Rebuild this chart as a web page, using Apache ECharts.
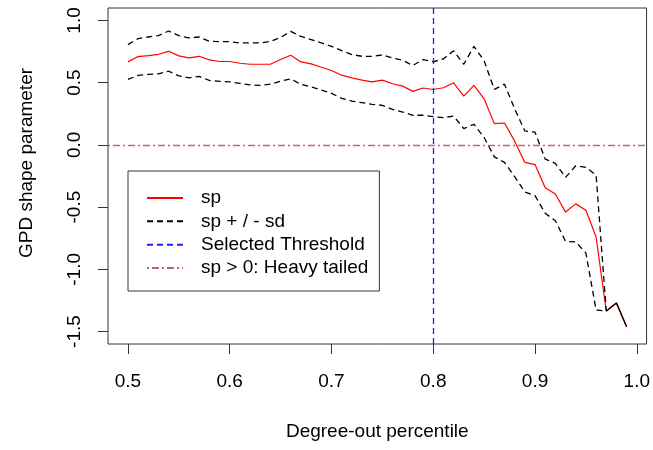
<!DOCTYPE html>
<html><head><meta charset="utf-8">
<script src="https://cdn.jsdelivr.net/npm/echarts@6/dist/echarts.min.js"></script>
<style>html,body{margin:0;padding:0;background:#fff}#c{width:653px;height:450px}</style>
</head><body><div id="c"></div>
<script>
const percentiles = [0.50,0.51,0.52,0.53,0.54,0.55,0.56,0.57,0.58,0.59,
  0.60,0.61,0.62,0.63,0.64,0.65,0.66,0.67,0.68,0.69,
  0.70,0.71,0.72,0.73,0.74,0.75,0.76,0.77,0.78,0.79,
  0.80,0.81,0.82,0.83,0.84,0.85,0.86,0.87,0.88,0.89,
  0.90,0.91,0.92,0.93,0.94,0.95,0.96,0.97,0.98,0.99];
const sp = [0.667,0.710,0.718,0.728,0.752,0.715,0.699,0.712,0.683,0.670,
  0.670,0.656,0.648,0.648,0.648,0.686,0.720,0.667,0.651,0.624,
  0.598,0.560,0.539,0.520,0.507,0.520,0.491,0.472,0.430,0.457,
  0.445,0.459,0.499,0.392,0.478,0.370,0.171,0.176,0.030,-0.141,
  -0.158,-0.345,-0.394,-0.540,-0.474,-0.525,-0.740,-1.335,-1.270,-1.461];
const spUpper = [0.806,0.854,0.867,0.878,0.915,0.878,0.859,0.867,0.832,0.830,
  0.830,0.819,0.819,0.819,0.832,0.864,0.912,0.872,0.846,0.819,
  0.792,0.758,0.726,0.712,0.712,0.723,0.699,0.680,0.638,0.686,
  0.668,0.691,0.756,0.648,0.792,0.675,0.446,0.488,0.290,0.112,
  0.102,-0.114,-0.148,-0.261,-0.168,-0.181,-0.242,-1.335,-1.270,-1.461];
const spLower = [0.526,0.558,0.566,0.571,0.592,0.555,0.539,0.550,0.518,0.510,
  0.507,0.494,0.483,0.478,0.488,0.512,0.531,0.486,0.467,0.440,
  0.414,0.374,0.352,0.339,0.326,0.318,0.286,0.264,0.238,0.238,
  0.227,0.219,0.232,0.131,0.166,0.059,-0.096,-0.141,-0.255,-0.378,
  -0.408,-0.550,-0.610,-0.775,-0.780,-0.870,-1.328,-1.335,-1.270,-1.461];
const threshold = 0.8;
const heavyTailLevel = 0;
const xTicks = [0.5,0.6,0.7,0.8,0.9,1.0];
const yTicks = [-1.5,-1.0,-0.5,0.0,0.5,1.0];
const xRange = [0.4804, 1.0096];
const yRange = [-1.6, 1.1];
const legendNames = ['sp','sp + / - sd','Selected Threshold','sp > 0: Heavy tailed'];

const FONT = 'Liberation Sans, Arial, sans-serif';
const pairs = arr => percentiles.map((x, i) => [x, arr[i]]);
const dash = [6, 4];
const dashDot = [2, 3, 7, 3];
const blueStyle = {color: '#2020ff', width: 1.3, type: dash};
const brownStyle = {color: '#c06868', width: 1.3, type: dashDot};

const chart = echarts.init(document.getElementById('c'), null, {renderer: 'canvas'});
chart.setOption({
  animation: false,
  backgroundColor: '#fff',
  textStyle: {fontFamily: FONT},
  grid: {left: 108, right: 6, top: 8, bottom: 106, show: true, borderColor: '#333', borderWidth: 1},
  xAxis: {
    type: 'value', min: xRange[0], max: xRange[1], position: 'bottom',
    name: 'Degree-out percentile', nameLocation: 'middle', nameGap: 78, nameMoveOverlap: false,
    nameTextStyle: {fontSize: 19, color: '#000', fontFamily: FONT},
    axisLine: {show: false, onZero: false},
    axisTick: {show: true, inside: false, length: 10, customValues: xTicks, lineStyle: {color: '#333'}},
    axisLabel: {customValues: xTicks, margin: 28, fontSize: 19, color: '#000', fontFamily: FONT,
      formatter: v => v.toFixed(1)},
    splitLine: {show: false}
  },
  yAxis: {
    type: 'value', min: yRange[0], max: yRange[1], position: 'left',
    name: 'GPD shape parameter', nameLocation: 'middle', nameRotate: 90, nameGap: 72, nameMoveOverlap: false,
    nameTextStyle: {fontSize: 19, color: '#000', fontFamily: FONT, padding: [0, 0, 0, 26]},
    axisLine: {show: false, onZero: false},
    axisTick: {show: true, inside: false, length: 10, customValues: yTicks, lineStyle: {color: '#333'}},
    axisLabel: {customValues: yTicks, rotate: 90, margin: 24, fontSize: 19, color: '#000', fontFamily: FONT,
      formatter: v => v.toFixed(1)},
    splitLine: {show: false}
  },
  legend: {
    data: legendNames, orient: 'vertical', left: 128, top: 171,
    padding: [17, 11, 13, 18], itemGap: 3.33, itemWidth: 36, itemHeight: 14,
    borderColor: '#333', borderWidth: 1, backgroundColor: '#fff', selectedMode: false,
    itemStyle: {color: 'transparent', borderColor: 'transparent', borderWidth: 0, opacity: 0},
    textStyle: {fontSize: 19, color: '#000', fontFamily: FONT, lineHeight: 20, padding: [0, 0, 0, 13]}
  },
  series: [
    {name: legendNames[0], type: 'line', data: pairs(sp), symbol: 'none', z: 3,
      lineStyle: {color: '#ff0000', width: 1.2}, itemStyle: {color: '#ff0000'}},
    {name: legendNames[1], type: 'line', data: pairs(spUpper), symbol: 'none', z: 4,
      lineStyle: {color: '#000', width: 1.3, type: dash}, itemStyle: {color: '#000'}},
    {name: legendNames[1], type: 'line', data: pairs(spLower), symbol: 'none', z: 4,
      lineStyle: {color: '#000', width: 1.3, type: dash}, itemStyle: {color: '#000'}},
    {name: legendNames[3], type: 'line', data: [], symbol: 'none', z: 5,
      lineStyle: brownStyle, itemStyle: {color: brownStyle.color},
      markLine: {silent: true, symbol: 'none', label: {show: false}, lineStyle: brownStyle,
        data: [{yAxis: heavyTailLevel}]}},
    {name: legendNames[2], type: 'line', data: [], symbol: 'none', z: 6,
      lineStyle: blueStyle, itemStyle: {color: blueStyle.color},
      markLine: {silent: true, symbol: 'none', label: {show: false}, lineStyle: blueStyle,
        data: [{xAxis: threshold}]}}
  ]
});
</script></body></html>
